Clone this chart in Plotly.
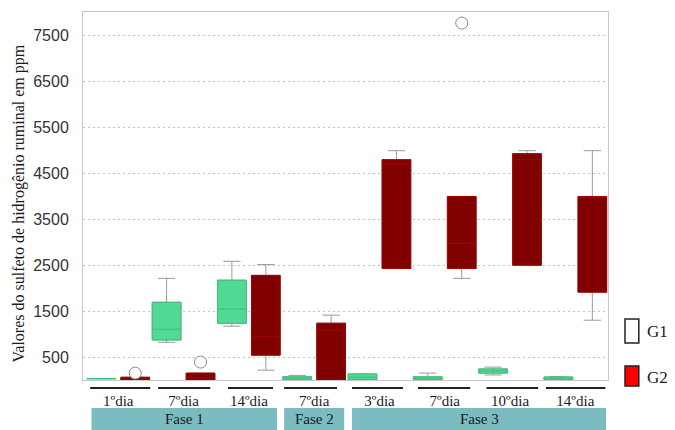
import plotly.graph_objects as go

# ---------------- data ----------------
days = ["1ºdia", "7ºdia", "14ºdia", "7ºdia", "3ºdia", "7ºdia", "10ºdia", "14ºdia"]
phases = ["Fase 1", "Fase 2", "Fase 3"]

g1_low = [30, 820, 1170, 0, 0, 0, 110, 0]
g1_q1 = [30, 870, 1235, 10, 10, 10, 150, 10]
g1_med = [30, 1105, 1540, 40, 60, 40, 195, 40]
g1_q3 = [30, 1690, 2170, 70, 130, 70, 240, 65]
g1_up = [30, 2210, 2580, 100, 130, 150, 280, 75]

g2_low = [0, 0, 215, 0, 2425, 2210, 2495, 1300]
g2_q1 = [0, 0, 540, 0, 2425, 2425, 2495, 1910]
g2_med = [20, 50, 950, 1085, 4700, 2970, 4790, 3990]
g2_q3 = [60, 150, 2275, 1235, 4790, 3990, 4920, 3990]
g2_up = [60, 150, 2510, 1410, 4985, 3990, 4985, 4985]

g2_out_cat = [0, 1, 5]
g2_out_val = [150, 390, 7760]

y_ticks = [500, 1500, 2500, 3500, 4500, 5500, 6500, 7500]
y_title = "Valores do sulfeto de hidrogênio ruminal em ppm"

# ---------------- layout helpers ----------------
n = len(days)
idx = list(range(n))
OFF = 0.26
BW = 0.44

G1_FILL = "#52d996"
G1_LINE = "#3cbf7c"
G2_FILL = "#800000"
G2_LINE = "#a80000"
WHISK = "#9a9a9a"

fig = go.Figure()


def add_group(pos, low, q1, med, q3, up, fill, line):
    fig.add_trace(go.Box(
        x=pos, lowerfence=low, q1=q1, median=med, q3=q3, upperfence=up,
        width=BW, fillcolor=fill, line=dict(color=WHISK, width=1),
        whiskerwidth=0.6, boxpoints=False, showlegend=False, hoverinfo="skip"))
    fig.add_trace(go.Box(
        x=pos, lowerfence=q1, q1=q1, median=med, q3=q3, upperfence=q3,
        width=BW, fillcolor=fill, line=dict(color=line, width=1),
        whiskerwidth=0, boxpoints=False, showlegend=False, hoverinfo="skip"))


add_group([i - OFF for i in idx], g1_low, g1_q1, g1_med, g1_q3, g1_up, G1_FILL, G1_LINE)
add_group([i + OFF for i in idx], g2_low, g2_q1, g2_med, g2_q3, g2_up, G2_FILL, G2_LINE)

fig.add_trace(go.Scatter(
    x=[c + OFF for c in g2_out_cat], y=g2_out_val, mode="markers",
    marker=dict(symbol="circle", size=12, color="white",
                line=dict(color="#8a8a8a", width=1)),
    cliponaxis=False, showlegend=False, hoverinfo="skip"))

# separator lines above day labels (x spans in axis units)
day_spans = [(-0.43, 0.49), (0.61, 1.41), (1.68, 2.37), (2.54, 3.35),
             (3.58, 4.36), (4.59, 5.39), (5.64, 6.43), (6.55, 7.46)]
shapes = []
for a, b in day_spans:
    shapes.append(dict(type="line", xref="x", yref="paper", x0=a, x1=b,
                       y0=-0.022, y1=-0.022, line=dict(color="#222222", width=2)))

phase_spans = [(-0.41, 2.43), (2.54, 3.46), (3.58, 7.47)]
annotations = []
for (a, b), name in zip(phase_spans, phases):
    shapes.append(dict(type="rect", xref="x", yref="paper", x0=a, x1=b,
                       y0=-0.14, y1=-0.076, fillcolor="#7bbcc1",
                       line=dict(width=0), layer="below"))
    annotations.append(dict(text=name, xref="x", yref="paper", x=(a + b) / 2,
                            y=-0.107, showarrow=False, yanchor="middle",
                            font=dict(family="Liberation Serif", size=15, color="#1a1a1a")))

# y-axis title
annotations.append(dict(text=y_title, xref="paper", yref="paper", x=-0.121, y=0.481,
                        textangle=-90, showarrow=False, xanchor="center", yanchor="middle",
                        font=dict(family="Liberation Serif", size=16, color="#1a1a1a")))

# custom legend
shapes.append(dict(type="rect", xref="paper", yref="paper", x0=1.0324, x1=1.0587,
                   y0=0.1005, y1=0.1658, fillcolor="white",
                   line=dict(color="#222222", width=1.5)))
shapes.append(dict(type="rect", xref="paper", yref="paper", x0=1.0324, x1=1.0587,
                   y0=-0.0163, y1=0.038, fillcolor="#ff0000",
                   line=dict(color="#222222", width=1.5)))
annotations.append(dict(text="G1", xref="paper", yref="paper", x=1.07, y=0.133,
                        xanchor="left", yanchor="middle", showarrow=False,
                        font=dict(family="Liberation Serif", size=17, color="#1a1a1a")))
annotations.append(dict(text="G2", xref="paper", yref="paper", x=1.07, y=0.008,
                        xanchor="left", yanchor="middle", showarrow=False,
                        font=dict(family="Liberation Serif", size=17, color="#1a1a1a")))

fig.update_layout(
    width=675, height=430,
    margin=dict(l=83, r=67, t=12, b=50, autoexpand=False),
    paper_bgcolor="white", plot_bgcolor="white",
    showlegend=False,
    shapes=shapes, annotations=annotations,
    xaxis=dict(range=[-0.54, 7.5], tickvals=idx, ticktext=days,
               showgrid=False, zeroline=False, showline=True, mirror=True,
               linecolor="#c8c8c8", linewidth=1, automargin=False,
               ticks="outside", ticklen=7, tickcolor="rgba(0,0,0,0)",
               tickfont=dict(family="Liberation Serif", size=15, color="#1a1a1a")),
    yaxis=dict(range=[0, 8000], tickvals=y_ticks, automargin=False,
               showgrid=True, gridcolor="#c4c4c4", griddash="2px,3px", gridwidth=1,
               zeroline=False, showline=True, mirror=True,
               linecolor="#c8c8c8", linewidth=1,
               ticks="outside", ticklen=10, tickcolor="rgba(0,0,0,0)",
               tickfont=dict(family="Liberation Sans", size=16, color="#333333")),
)

fig.write_html("out.html", config={"displayModeBar": False},
               post_script="document.body.style.margin='0';")
